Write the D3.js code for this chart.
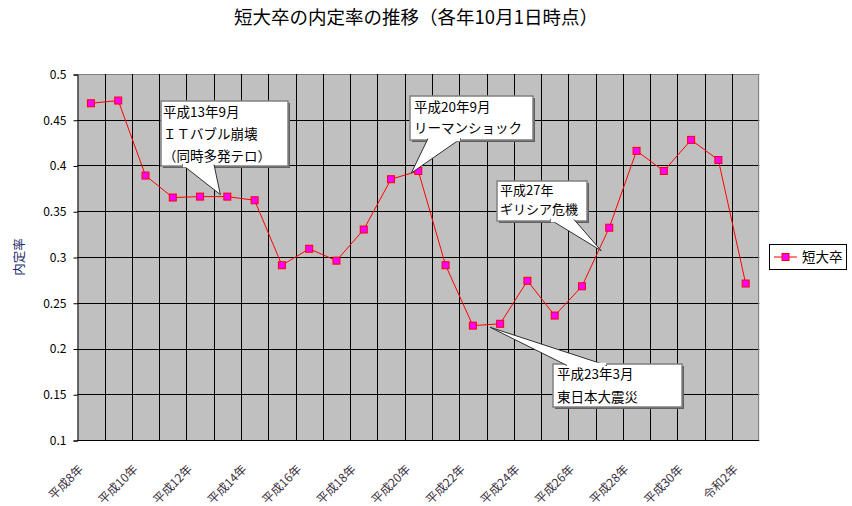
<!DOCTYPE html>
<html><head><meta charset="utf-8">
<script src="https://cdn.jsdelivr.net/npm/d3@7"></script>
<style>
body{margin:0;background:#fff}
svg{display:block}
text{font-family:"Noto Sans CJK JP","Noto Sans",sans-serif}
</style>
</head><body>
<svg id="chart" width="852" height="506"></svg>
<script>
// ---- data ----
const categories = ["平成8年","平成9年","平成10年","平成11年","平成12年","平成13年","平成14年","平成15年","平成16年","平成17年","平成18年","平成19年","平成20年","平成21年","平成22年","平成23年","平成24年","平成25年","平成26年","平成27年","平成28年","平成29年","平成30年","令和元年","令和2年"];
const values = [0.468,0.471,0.389,0.365,0.366,0.366,0.362,0.291,0.309,0.296,0.330,0.385,0.394,0.291,0.225,0.227,0.274,0.236,0.268,0.332,0.416,0.394,0.428,0.406,0.271];
const xTickLabels = ["平成8年","平成10年","平成12年","平成14年","平成16年","平成18年","平成20年","平成22年","平成24年","平成26年","平成28年","平成30年","令和2年"];
const yTicks = [0.1,0.15,0.2,0.25,0.3,0.35,0.4,0.45,0.5];
const seriesName = "短大卒";
const chartTitle = "短大卒の内定率の推移（各年10月1日時点）";
const yAxisTitle = "内定率";
const annotationLines = [
  ["平成13年9月","ＩＴバブル崩壊","（同時多発テロ）"],
  ["平成20年9月","リーマンショック"],
  ["平成27年","ギリシア危機"],
  ["平成23年3月","東日本大震災"]
];
const annotationCats = ["平成13年","平成20年","平成27年","平成23年"];

// ---- layout ----
const W = 852, H = 506;
const plot = {left: 77.3, top: 74, right: 759.3, bottom: 440};
const svg = d3.select("#chart");

const x = d3.scaleBand().domain(categories).range([plot.left, plot.right]).padding(0);
const y = d3.scaleLinear().domain([0.1, 0.5]).range([plot.bottom, plot.top]);
const cx = c => x(c) + x.bandwidth() / 2;

// background
svg.append("rect").attr("x",0).attr("y",0).attr("width",W).attr("height",H).attr("fill","#fff");
svg.append("rect")
  .attr("x", plot.left).attr("y", plot.top)
  .attr("width", plot.right - plot.left).attr("height", plot.bottom - plot.top)
  .attr("fill", "#C0C0C0");

// horizontal gridlines
svg.append("g").selectAll("line").data(yTicks.slice(1)).join("line")
  .attr("x1", plot.left).attr("x2", plot.right)
  .attr("y1", d => Math.round(y(d)) + 0.5).attr("y2", d => Math.round(y(d)) + 0.5)
  .attr("stroke", d => d === 0.5 ? "#808080" : "#000").attr("stroke-width", 1);

// vertical gridlines (category boundaries)
const bounds = categories.slice(1).map(c => x(c));
svg.append("g").selectAll("line").data(bounds).join("line")
  .attr("x1", d => Math.round(d) + 0.5).attr("x2", d => Math.round(d) + 0.5)
  .attr("y1", plot.top).attr("y2", plot.bottom)
  .attr("stroke", "#000").attr("stroke-width", 1);
// right border
svg.append("line")
  .attr("x1", Math.round(plot.right) - 0.5).attr("x2", Math.round(plot.right) - 0.5)
  .attr("y1", plot.top).attr("y2", plot.bottom)
  .attr("stroke", "#808080");

// y axis
const yAxis = d3.axisLeft(y).tickValues(yTicks).tickSize(4).tickPadding(7)
  .tickFormat(d => d3.format("")(+d.toFixed(2)));
const gy = svg.append("g").attr("transform", `translate(${Math.round(plot.left)+0.5},0.5)`).call(yAxis);
gy.select(".domain").attr("stroke", "#000");
gy.selectAll(".tick line").attr("stroke", "#000");
gy.selectAll(".tick text").attr("font-family", "'Liberation Sans',Arial,sans-serif")
  .attr("font-size", 12).attr("fill", "#000");

// x axis line
svg.append("line")
  .attr("x1", plot.left).attr("x2", plot.right)
  .attr("y1", Math.round(plot.bottom) + 0.5).attr("y2", Math.round(plot.bottom) + 0.5)
  .attr("stroke", "#000");

// x tick labels
svg.append("g").selectAll("text").data(xTickLabels).join("text")
  .attr("transform", d => `translate(${cx(d) - 10},${467}) rotate(-45)`)
  .attr("text-anchor", "end").attr("dy", "0.35em")
  .attr("font-size", 12).attr("fill", "#3a3040")
  .text(d => d);

// line
const line = d3.line().x((d, i) => cx(categories[i])).y(d => y(d));
svg.append("path").datum(values)
  .attr("d", line).attr("fill", "none").attr("stroke", "#FF0000").attr("stroke-width", 1);

// markers
svg.append("g").selectAll("rect").data(values).join("rect")
  .attr("x", (d, i) => cx(categories[i]) - 3.5).attr("y", d => y(d) - 3.5)
  .attr("width", 7).attr("height", 7)
  .attr("fill", "#FF00FF").attr("stroke", "#FF0000").attr("stroke-width", 1);

// callouts (box layout in pixels; pointer tip anchored to the data point)
const calloutLayout = [
  {box:[161,101,127,65], base:[182,214,"b"], tipOff:[-7,-2], lineY:[117,139,161], tx:163, fs:13.5},
  {box:[410,96,123,44],  base:[428,461,"b"], tipOff:[-7,2],  lineY:[112,133], tx:414, fs:13.5},
  {box:[497,181,90,40],  base:[550,574,"b"], tipOff:[-8,23], lineY:[195,214], tx:500, fs:13},
  {box:[553,364,129,43], base:[567,607,"t"], tipOff:[-10,3.5], lineY:[379,402], tx:557, fs:13.5}
];
calloutLayout.forEach((L, k) => {
  const cat = annotationCats[k];
  const v = values[categories.indexOf(cat)];
  const tip = [cx(cat) + L.tipOff[0], y(v) + L.tipOff[1]];
  const [bx, by, bw, bh] = L.box;
  const g = svg.append("g");
  g.append("rect").attr("x", bx + 2).attr("y", by + 2).attr("width", bw).attr("height", bh).attr("fill", "#606060");
  g.append("rect").attr("x", bx).attr("y", by).attr("width", bw).attr("height", bh)
    .attr("fill", "#fff").attr("stroke", "#808080").attr("stroke-width", 1.5);
  const baseY = L.base[2] === "b" ? by + bh - 1.5 : by + 1.5;
  const p = d3.path();
  p.moveTo(L.base[0], baseY); p.lineTo(tip[0], tip[1]); p.lineTo(L.base[1], baseY);
  g.append("path").attr("d", p.toString()).attr("fill", "#fff").attr("stroke", "none");
  g.append("path").attr("d", p.toString()).attr("fill", "none").attr("stroke", "#303030").attr("stroke-width", 1);
  // cover box border where pointer joins
  g.append("line").attr("x1", L.base[0] + 1).attr("x2", L.base[1] - 1)
    .attr("y1", L.base[2] === "b" ? by + bh : by).attr("y2", L.base[2] === "b" ? by + bh : by)
    .attr("stroke", "#fff").attr("stroke-width", 2.5);
  g.selectAll("text").data(annotationLines[k]).join("text")
    .attr("x", L.tx).attr("y", (d, i) => L.lineY[i])
    .attr("font-size", L.fs).attr("fill", "#000").text(d => d);
});

// title
svg.append("text").attr("x", 416).attr("y", 24).attr("text-anchor", "middle")
  .attr("font-size", 18.5).attr("fill", "#000").text(chartTitle);

// y axis title
svg.append("text").attr("transform", "translate(20,257) rotate(-90)")
  .attr("text-anchor", "middle").attr("dy", "0.35em")
  .attr("font-size", 12.5).attr("fill", "#1a2a6a").text(yAxisTitle);

// legend
const lg = svg.append("g");
lg.append("rect").attr("x", 769.5).attr("y", 244.5).attr("width", 77).attr("height", 25)
  .attr("fill", "#fff").attr("stroke", "#000");
lg.append("line").attr("x1", 774).attr("x2", 797).attr("y1", 257).attr("y2", 257).attr("stroke", "#FF0000");
lg.append("rect").attr("x", 782).attr("y", 253.5).attr("width", 7).attr("height", 7)
  .attr("fill", "#FF00FF").attr("stroke", "#FF0000");
lg.append("text").attr("x", 802).attr("y", 262).attr("font-size", 13.5).attr("fill", "#000").text(seriesName);
</script>
</body></html>
